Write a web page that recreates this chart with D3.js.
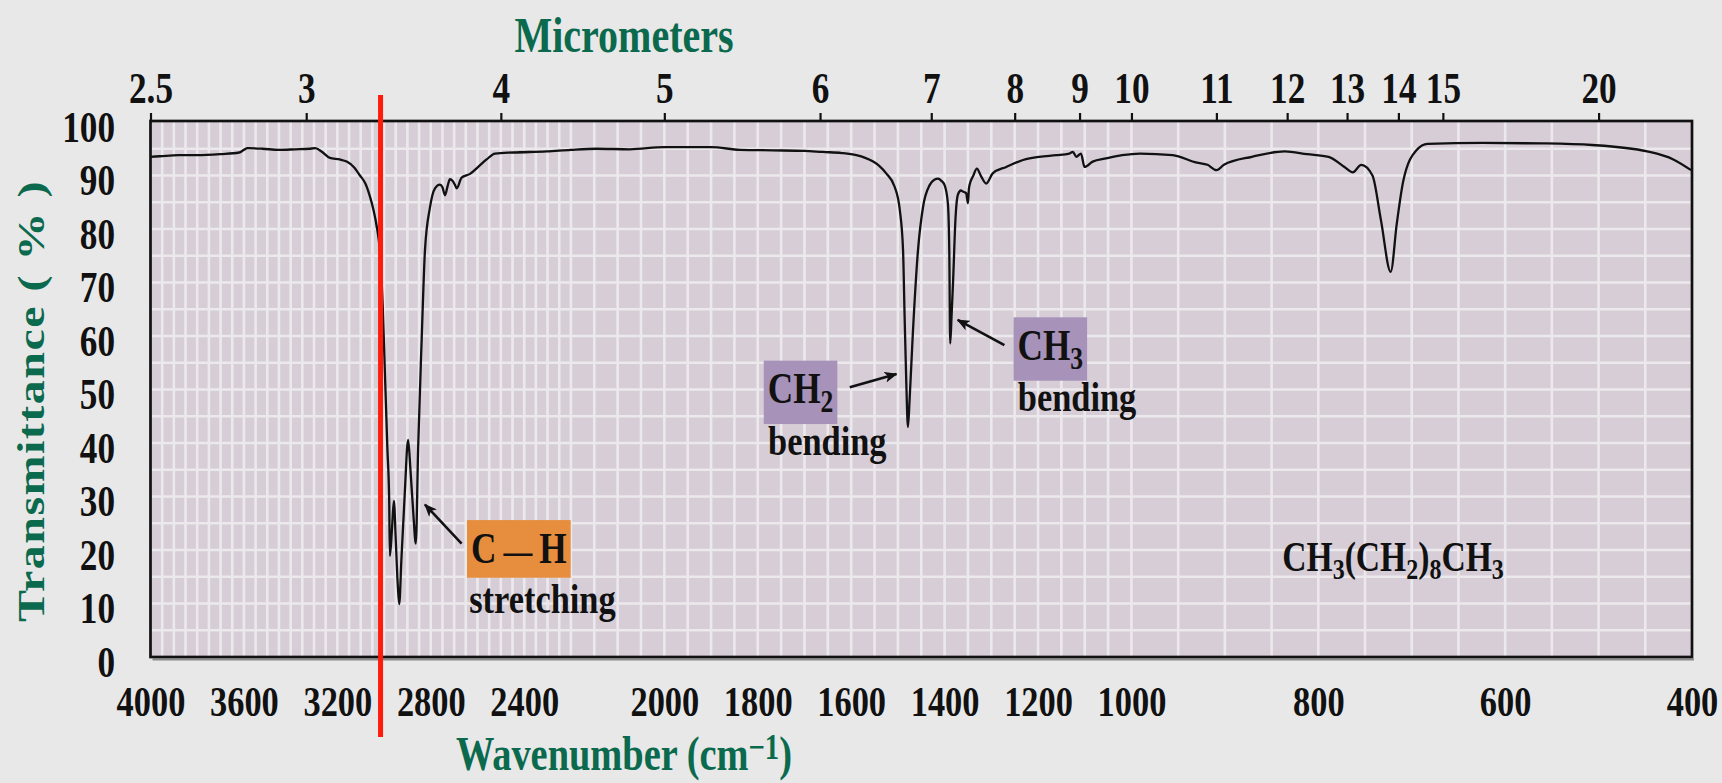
<!DOCTYPE html>
<html>
<head>
<meta charset="utf-8">
<title>Infrared spectrum of decane</title>
<script src="https://cdn.jsdelivr.net/npm/d3@7/dist/d3.min.js"></script>
<style>
  html, body { margin: 0; padding: 0; background: #e8e8e8; }
  svg { display: block; }
  text { font-family: "Liberation Serif", "Times New Roman", Times, serif; font-weight: bold; }
</style>
</head>
<body>
<svg id="chart" width="1722" height="783"></svg>
<script>
// ---- IR spectrum of decane, CH3(CH2)8CH3 ----
const wavenumber = [
  4000, 3960, 3880, 3800, 3700, 3620, 3600, 3585, 3520, 3450, 3380, 3320, 3295, 3265, 3232,
  3190, 3160, 3130, 3103, 3080, 3060, 3045, 3032, 3018, 3006, 2996, 2986, 2978, 2975, 2966,
  2958, 2950, 2942, 2935, 2926, 2912, 2897, 2887, 2875, 2864, 2854, 2839, 2825, 2804, 2782,
  2761, 2750, 2739, 2728, 2718, 2707, 2697, 2689, 2668, 2632, 2597, 2561, 2525, 2447, 2304,
  2200, 2145, 2074, 2000, 1900, 1838, 1768, 1700, 1661, 1620, 1589, 1570, 1553, 1540, 1525,
  1507, 1496, 1489, 1485.6, 1482, 1478.5, 1475, 1468, 1457, 1446, 1432, 1422, 1414, 1407, 1400,
  1393, 1390, 1388, 1385, 1382, 1376.5, 1371.6, 1365, 1361, 1354, 1350, 1348, 1344, 1339.5, 1331,
  1321.5, 1311, 1297, 1268, 1232, 1197, 1161, 1133, 1125.5, 1118, 1108, 1100.5, 1083, 1054, 1020,
  991, 956, 930, 918.6, 909, 901, 871, 836, 812, 789, 772, 763, 754, 742, 733,
  722.5, 716, 709, 695, 683, 624, 560, 507, 448, 420, 401
];
const transmittance = [
  93.5, 93.6, 93.8, 93.8, 94.0, 94.3, 94.8, 95.1, 95.0, 94.8, 94.9, 95.0, 95.1, 94.4, 93.3,
  93.0, 92.6, 91.6, 90.0, 88.5, 86.0, 83.5, 80.6, 75.9, 65.9, 52.6, 39.2, 29.2, 18.9, 24.0,
  29.2, 22.0, 14.0, 9.9, 18.0, 30.0, 40.6, 35.0, 27.0, 21.2, 39.2, 59.3, 75.9, 83.9, 87.6,
  88.3, 87.8, 86.3, 88.0, 89.3, 89.0, 88.3, 87.6, 89.6, 90.3, 91.6, 93.0, 94.1, 94.3, 94.5,
  94.8, 95.0, 94.9, 95.3, 95.3, 94.8, 94.7, 94.6, 94.4, 94.2, 93.8, 93.3, 92.6, 91.8, 90.4,
  87.9, 83.6, 76.1, 63.6, 51.2, 43.0, 48.0, 60.5, 76.0, 84.2, 88.2, 89.2, 89.4, 89.0, 88.2,
  84.8, 76.0, 58.6, 64.0, 69.9, 82.3, 86.4, 87.2, 87.0, 86.7, 84.8, 87.5, 89.0, 89.8, 91.3,
  89.8, 88.5, 90.4, 91.6, 92.9, 93.5, 93.8, 94.1, 94.4, 93.5, 94.1, 91.6, 92.6, 93.2, 93.8,
  94.1, 93.8, 92.4, 92.0, 91.0, 92.0, 93.5, 94.5, 94.0, 93.5, 91.6, 90.6, 92.0, 90.0, 81.7,
  72.0, 81.0, 89.0, 94.7, 95.9, 96.1, 96.0, 95.7, 94.5, 93.0, 91.0
];

// axis labels
const wavenumberTicks = [4000, 3600, 3200, 2800, 2400, 2000, 1800, 1600, 1400, 1200, 1000, 800, 600, 400];
const micrometerTicks = [2.5, 3, 4, 5, 6, 7, 8, 9, 10, 11, 12, 13, 14, 15, 20];
const transmittanceTicks = [0, 10, 20, 30, 40, 50, 60, 70, 80, 90, 100];

// the wavenumber axis expands at these points (cm-1)
const scaleBreaks = [4000, 2200, 1000, 400];
// sp3 / sp2 C-H boundary marker (cm-1)
const boundaryWavenumber = 3015;

// ---------------------------------------------------------------
const svg = d3.select("#chart");
const plot = { left: 150.5, right: 1692, top: 122, bottom: 657 };
const SQ = 0.8;                       // horizontal squeeze of all lettering
const green = "#0b6a4e";

const span = plot.right - plot.left;
const x = d3.scaleLinear()
  .domain(scaleBreaks)
  .range([plot.left, plot.left + span * 3 / 11, plot.left + span * 7 / 11, plot.right]);
const y = d3.scaleLinear().domain([0, 100]).range([plot.bottom, plot.top]);

const spectrum = wavenumber.map((nu, i) => ({ nu, t: transmittance[i] }));

// plot background
svg.append("rect")
  .attr("x", plot.left).attr("y", plot.top - 1)
  .attr("width", span).attr("height", plot.bottom - plot.top + 1)
  .attr("fill", "#d6cdd7");

// grid: every 50 cm-1 and every 5 %T
const grid = svg.append("g").attr("stroke", "#ece9ec").attr("stroke-width", 2.6);
grid.selectAll("line.v").data(d3.range(450, 4000, 50)).join("line")
  .attr("class", "v")
  .attr("x1", d => x(d)).attr("x2", d => x(d))
  .attr("y1", plot.top).attr("y2", plot.bottom);
grid.selectAll("line.h").data(d3.range(5, 100, 5)).join("line")
  .attr("class", "h")
  .attr("x1", plot.left).attr("x2", plot.right)
  .attr("y1", d => y(d)).attr("y2", d => y(d));

// spectrum trace
svg.append("clipPath").attr("id", "clip").append("rect")
  .attr("x", plot.left).attr("y", plot.top - 2)
  .attr("width", span).attr("height", plot.bottom - plot.top + 2);
svg.append("path")
  .datum(spectrum)
  .attr("clip-path", "url(#clip)")
  .attr("fill", "none")
  .attr("stroke", "#111")
  .attr("stroke-width", 2.3)
  .attr("stroke-linejoin", "round")
  .attr("d", d3.line().x(d => x(d.nu)).y(d => y(d.t)).curve(d3.curveMonotoneX));

// frame
svg.append("line")
  .attr("x1", plot.left + 2).attr("x2", plot.right + 2)
  .attr("y1", plot.bottom + 2.5).attr("y2", plot.bottom + 2.5)
  .attr("stroke", "#8a8a8a").attr("stroke-width", 2);
svg.append("rect")
  .attr("x", plot.left).attr("y", plot.top - 1)
  .attr("width", span).attr("height", plot.bottom - plot.top + 1)
  .attr("fill", "none").attr("stroke", "#111").attr("stroke-width", 2.7);

// bottom axis: wavenumber
const bottomAxis = svg.append("g")
  .attr("transform", `translate(0,${plot.bottom})`)
  .call(d3.axisBottom(x).tickValues(wavenumberTicks).tickSize(0).tickFormat(d3.format("d")));
bottomAxis.select(".domain").remove();
bottomAxis.selectAll("text")
  .attr("y", null).attr("dy", null)
  .attr("transform", `translate(0,59) scale(${SQ},1)`)
  .attr("fill", "#111").attr("font-size", 43);

// top axis: micrometers, placed at the matching wavenumber
const topAxis = svg.append("g")
  .attr("transform", `translate(0,${plot.top - 1})`)
  .call(d3.axisTop(x)
    .tickValues(micrometerTicks.map(m => 10000 / m))
    .tickSize(8)
    .tickFormat(v => d3.format("~g")(+(10000 / v).toFixed(1))));
topAxis.select(".domain").remove();
topAxis.selectAll(".tick line").attr("stroke", "#111").attr("stroke-width", 2.2);
topAxis.selectAll("text")
  .attr("y", null).attr("dy", null)
  .attr("transform", `translate(0,-18) scale(${SQ},1)`)
  .attr("fill", "#111").attr("font-size", 44);

// left axis: transmittance
const leftAxis = svg.append("g")
  .attr("transform", `translate(${plot.left},0)`)
  .call(d3.axisLeft(y).tickValues(transmittanceTicks).tickSize(0));
leftAxis.select(".domain").remove();
leftAxis.selectAll("text")
  .attr("x", null).attr("dy", null)
  .attr("transform", `translate(-35.5,19) scale(${SQ},1)`)
  .attr("fill", "#111").attr("font-size", 44);
svg.selectAll(".tick text").attr("font-family", null);

// axis titles
svg.append("text")
  .attr("transform", `translate(624,52) scale(${SQ},1)`)
  .attr("text-anchor", "middle").attr("font-size", 50).attr("fill", green)
  .text("Micrometers");

const xTitle = svg.append("text")
  .attr("transform", `translate(624,770) scale(${SQ},1)`)
  .attr("text-anchor", "middle").attr("font-size", 48).attr("fill", green);
xTitle.append("tspan").text("Wavenumber (cm");
xTitle.append("tspan").attr("dy", -11).attr("font-size", 36).text("\u22121");
xTitle.append("tspan").attr("dy", 11).text(")");

svg.append("text")
  .attr("transform", `translate(44,401) scale(${SQ},1) rotate(-90)`)
  .attr("text-anchor", "middle").attr("font-size", 48).attr("fill", green)
  .attr("letter-spacing", 1.5)
  .text("Transmittance ( % )");

// 3000 cm-1 boundary
svg.append("line")
  .attr("x1", x(boundaryWavenumber)).attr("x2", x(boundaryWavenumber))
  .attr("y1", plot.top - 27).attr("y2", plot.bottom + 80)
  .attr("stroke", "#ff1a0a").attr("stroke-width", 5);

// ---- band annotations ----
const defs = svg.append("defs");
defs.append("marker")
  .attr("id", "head").attr("viewBox", "0 0 12 10")
  .attr("refX", 11).attr("refY", 5)
  .attr("markerWidth", 13).attr("markerHeight", 11)
  .attr("markerUnits", "userSpaceOnUse")
  .attr("orient", "auto")
  .append("path").attr("d", "M0,0 L12,5 L0,10 L3,5 Z").attr("fill", "#111");

function arrow(from, to) {
  svg.append("line")
    .attr("x1", x(from[0])).attr("y1", y(from[1]))
    .attr("x2", x(to[0])).attr("y2", y(to[1]))
    .attr("stroke", "#111").attr("stroke-width", 2.6)
    .attr("marker-end", "url(#head)");
}

// boxed group label (chemical formula) with a descriptive word below
function bandLabel(at, anchor, parts, fill, note, noteAt) {
  const g = svg.append("g")
    .attr("transform", `translate(${x(at[0])},${y(at[1])}) scale(${SQ},1)`);
  const rect = g.append("rect").attr("fill", fill);
  const t = g.append("text").attr("text-anchor", anchor).attr("font-size", 44).attr("fill", "#111");
  parts.forEach(p => {
    const s = t.append("tspan").text(p.text);
    if (p.sub) s.attr("font-size", 32).attr("dy", 9);
    if (p.size) s.attr("font-size", p.size);
  });
  const b = t.node().getBBox();
  rect.attr("x", b.x - 5).attr("y", b.y - 3).attr("width", b.width + 10).attr("height", b.height + 8);
  svg.append("text")
    .attr("transform", `translate(${x(noteAt[0])},${y(noteAt[1])}) scale(${SQ},1)`)
    .attr("text-anchor", anchor).attr("font-size", 43).attr("fill", "#111")
    .text(note);
}

bandLabel([2423, 17.6], "middle",
  [{ text: "C\u2009" }, { text: "\u2014", size: 36 }, { text: "\u2009H" }],
  "#e68d3e", "stretching", [2322, 8.2]);
arrow([2668, 21.2], [2825, 28.5]);

bandLabel([1778.6, 47.4], "start", [{ text: "CH" }, { text: "2", sub: true }], "#a792b9", "bending", [1778, 37.8]);
arrow([1603, 50.4], [1503, 52.9]);

bandLabel([1243.9, 55.5], "start", [{ text: "CH" }, { text: "3", sub: true }], "#a792b9", "bending", [1243.3, 45.9]);
arrow([1272, 58.3], [1372, 63.0]);

// compound formula
const formula = svg.append("text")
  .attr("transform", `translate(${x(720)},${y(16)}) scale(${SQ},1)`)
  .attr("text-anchor", "middle").attr("font-size", 42).attr("fill", "#111");
[["CH", 0], ["3", 1], ["(CH", 0], ["2", 1], [")", 0], ["8", 1], ["CH", 0], ["3", 1]].forEach(([s, sub], i, arr) => {
  const ts = formula.append("tspan").text(s);
  if (sub) ts.attr("font-size", 30).attr("dy", 8);
  else if (i > 0 && arr[i - 1][1]) ts.attr("dy", -8);
});
</script>
</body>
</html>
